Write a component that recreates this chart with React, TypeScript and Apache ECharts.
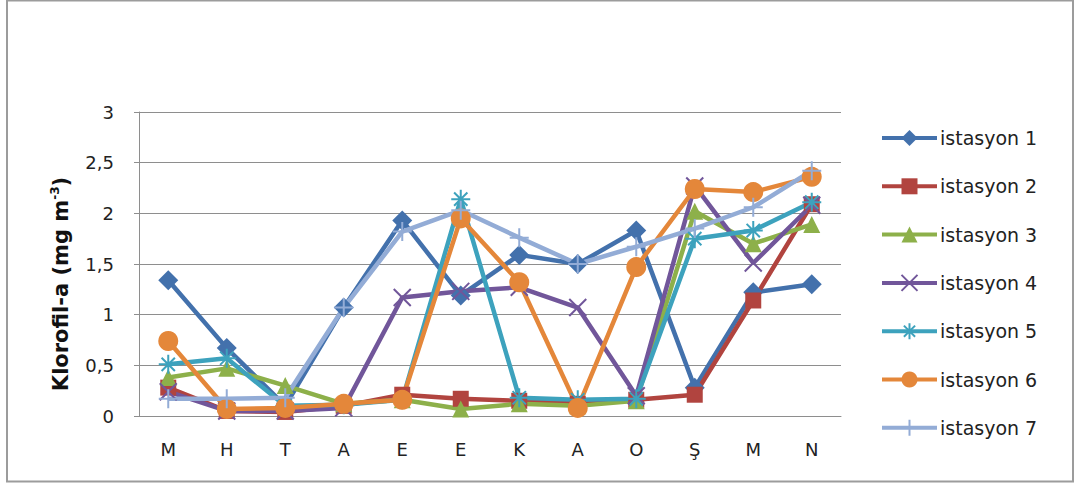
import React, { useEffect, useRef } from "react";
import * as echarts from "echarts";

// Months of sampling (Mar → Feb)
const months = ["M", "H", "T", "A", "E", "E", "K", "A", "O", "Ş", "M", "N"];

// Chlorophyll-a (mg m-3) per station
const station1 = [1.34, 0.67, 0.1, 1.07, 1.93, 1.19, 1.59, 1.5, 1.83, 0.28, 1.22, 1.3];
const station2 = [0.28, 0.05, 0.04, 0.1, 0.21, 0.17, 0.15, 0.12, 0.16, 0.21, 1.14, 2.09];
const station3 = [0.38, 0.47, 0.3, 0.12, 0.16, 0.07, 0.12, 0.1, 0.15, 2.02, 1.7, 1.89];
const station4 = [0.24, 0.05, 0.05, 0.08, 1.17, 1.23, 1.27, 1.07, 0.2, 2.27, 1.51, 2.08];
const station5 = [0.51, 0.57, 0.1, 0.11, 0.16, 2.14, 0.18, 0.16, 0.17, 1.75, 1.83, 2.11];
const station6 = [0.74, 0.07, 0.08, 0.12, 0.16, 1.95, 1.32, 0.08, 1.47, 2.24, 2.21, 2.36];
const station7 = [0.17, 0.17, 0.18, 1.07, 1.82, 2.03, 1.76, 1.5, 1.67, 1.85, 2.06, 2.42];

const seriesNames = [
  "istasyon 1",
  "istasyon 2",
  "istasyon 3",
  "istasyon 4",
  "istasyon 5",
  "istasyon 6",
  "istasyon 7",
];
const seriesValues = [station1, station2, station3, station4, station5, station6, station7];
const seriesColors = ["#4371AC", "#B1443F", "#8DB04A", "#71569A", "#3DA2BD", "#E4873A", "#93ACD6"];

const yTicks = [0, 0.5, 1, 1.5, 2, 2.5, 3];

const FONT = "DejaVu Sans";

// marker shapes; stroked-only ones are open paths drawn via border
const markers: { symbol: string; size: number; stroked: boolean }[] = [
  { symbol: "diamond", size: 20, stroked: false },
  { symbol: "rect", size: 16, stroked: false },
  { symbol: "triangle", size: 17, stroked: false },
  { symbol: "path://M0,0L20,20M20,0L0,20", size: 17, stroked: true },
  { symbol: "path://M10,0L10,20M0,10L20,10M3,3L17,17M17,3L3,17", size: 19, stroked: true },
  { symbol: "circle", size: 20, stroked: false },
  { symbol: "path://M10,0L10,20M0,10L20,10", size: 19, stroked: true },
];

export default function App() {
  const ref = useRef<HTMLDivElement>(null);

  useEffect(() => {
    if (!ref.current) return;
    const chart = echarts.init(ref.current, null, { renderer: "svg" });

    const series = seriesNames.map((name, i) => ({
      name,
      type: "line",
      data: seriesValues[i],
      symbol: markers[i].symbol,
      symbolSize: markers[i].size,
      showAllSymbol: true,
      lineStyle: { color: seriesColors[i], width: 4.5 },
      itemStyle: markers[i].stroked
        ? { color: seriesColors[i], borderColor: seriesColors[i], borderWidth: 2 }
        : { color: seriesColors[i], borderWidth: 0 },
      emphasis: { disabled: true },
    }));

    chart.setOption({
      animation: false,
      backgroundColor: "#ffffff",
      grid: { left: 139, right: 235, top: 112, bottom: 68, containLabel: false },
      legend: {
        orient: "vertical",
        left: 880,
        top: 128,
        padding: 0,
        itemWidth: 55,
        itemHeight: 20,
        itemGap: 28.3,
        data: seriesNames,
        lineStyle: { width: 4 },
        textStyle: { fontFamily: FONT, fontSize: 19, color: "#222", lineHeight: 20, padding: [0, 0, 0, -2] },
      },
      xAxis: {
        type: "category",
        data: months,
        boundaryGap: true,
        axisLine: { show: true, lineStyle: { color: "#8e8e8e", width: 1 } },
        axisTick: { show: false },
        axisLabel: {
          interval: 0,
          margin: 24,
          fontFamily: FONT,
          fontSize: 18,
          color: "#222",
        },
        splitLine: { show: false },
      },
      yAxis: {
        type: "value",
        min: 0,
        max: 3,
        interval: 0.5,
        axisLine: { show: true, lineStyle: { color: "#8e8e8e", width: 1 } },
        axisTick: { show: true, inside: false, length: 5, lineStyle: { color: "#8e8e8e" } },
        axisLabel: {
          margin: 25,
          fontFamily: FONT,
          fontSize: 18,
          color: "#222",
          formatter: (v: number) => (yTicks.includes(v) ? String(v).replace(".", ",") : ""),
        },
        splitLine: { show: true, lineStyle: { color: "#8e8e8e", width: 1 } },
      },
      graphic: [
        {
          type: "rect",
          shape: { x: 7, y: 0.5, width: 1066, height: 481 },
          style: { fill: "none", stroke: "#9c9c9c", lineWidth: 2 },
          silent: true,
        },
        {
          type: "text",
          x: 61,
          y: 284,
          rotation: Math.PI / 2,
          style: {
            text: "{a|Klorofil-a (mg m}{s|-3}{a|)}",
            align: "center",
            verticalAlign: "middle",
            rich: {
              a: { fontFamily: FONT, fontSize: 21, fontWeight: "bold", fill: "#111", lineHeight: 24 },
              s: {
                fontFamily: FONT,
                fontSize: 12,
                fontWeight: "bold",
                fill: "#111",
                lineHeight: 24,
                verticalAlign: "top",
                padding: [0, 0, 9, 0],
              },
            },
          },
          silent: true,
        },
      ],
      series,
    });

    return () => chart.dispose();
  }, []);

  return (
    <div
      ref={ref}
      style={{ position: "fixed", left: 0, top: 0, width: 1076, height: 484, background: "#fff" }}
    />
  );
}
